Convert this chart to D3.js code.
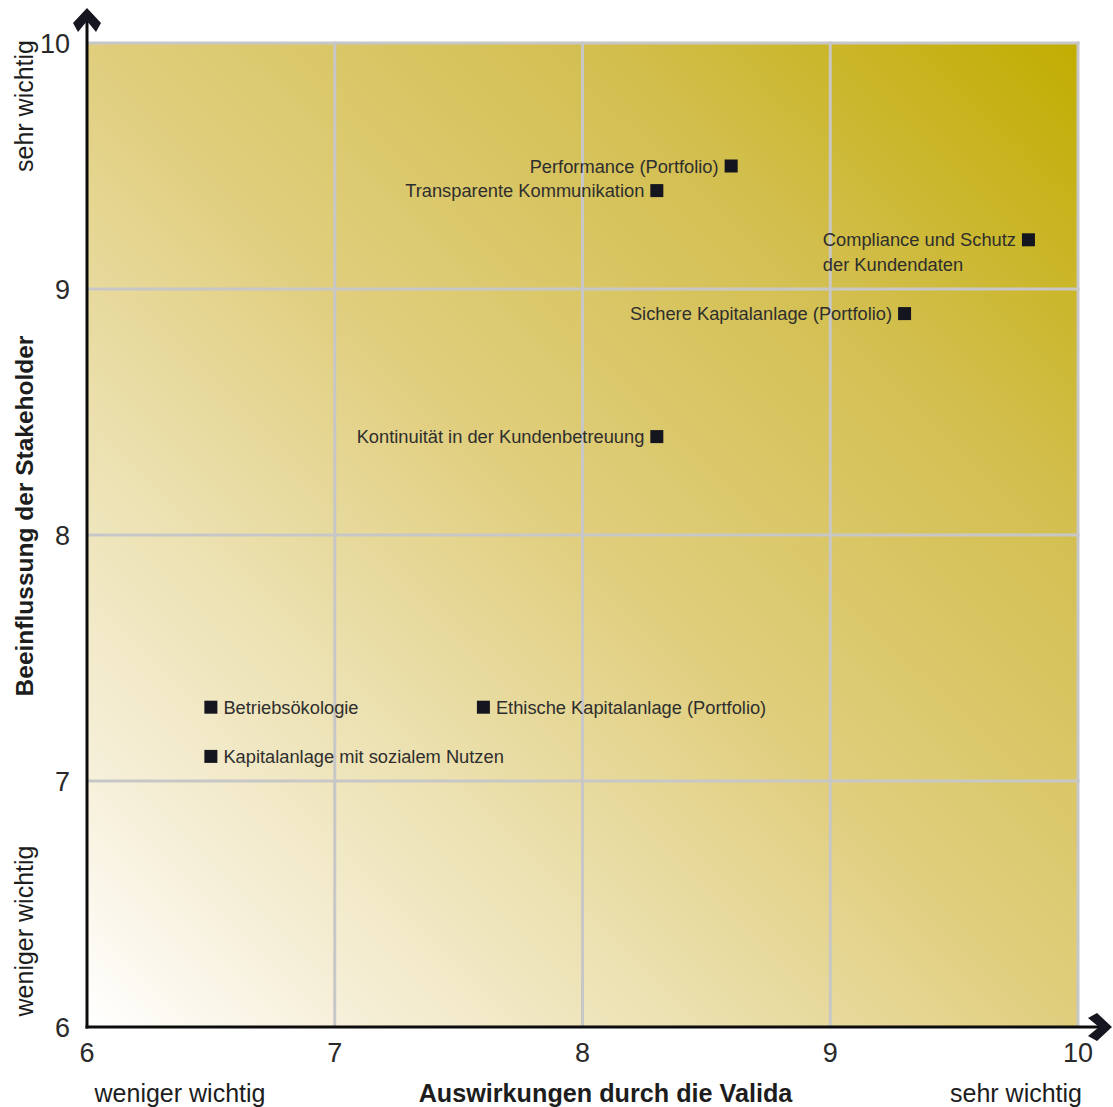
<!DOCTYPE html>
<html lang="de">
<head>
<meta charset="utf-8">
<script src="https://cdn.jsdelivr.net/npm/d3@7"></script>
<style>
  html, body { margin: 0; padding: 0; background: #ffffff; }
  svg { display: block; }
</style>
</head>
<body>
<svg id="chart" width="1113" height="1107"></svg>
<script>
// Wesentlichkeitsmatrix: Themen nach Auswirkung und Stakeholder-Einfluss
const topics = [
  "Performance (Portfolio)",
  "Transparente Kommunikation",
  "Compliance und Schutz|der Kundendaten",
  "Sichere Kapitalanlage (Portfolio)",
  "Kontinuität in der Kundenbetreuung",
  "Betriebsökologie",
  "Ethische Kapitalanlage (Portfolio)",
  "Kapitalanlage mit sozialem Nutzen"
];
const impact    = [8.6, 8.3, 9.8, 9.3, 8.3, 6.5, 7.6, 6.5];   // Auswirkungen durch die Valida
const influence = [9.5, 9.4, 9.2, 8.9, 8.4, 7.3, 7.3, 7.1];   // Beeinflussung der Stakeholder
const labelSide = ["left", "left", "left", "left", "left", "right", "right", "right"];

const xTicks = [6, 7, 8, 9, 10];
const yTicks = [6, 7, 8, 9, 10];

const svg = d3.select("#chart");
const margin = { left: 87, right: 35, top: 43, bottom: 80 };
const W = 1113, H = 1107;

const x = d3.scaleLinear().domain([6, 10]).range([margin.left, W - margin.right]);
const y = d3.scaleLinear().domain([6, 10]).range([H - margin.bottom, margin.top]);

const labelFont = "'Liberation Sans', Arial, sans-serif";
const tickFont = "'Liberation Sans Narrow', 'Liberation Sans', Arial, sans-serif";

// Hintergrundverlauf: weiß unten links bis oliv oben rechts
const defs = svg.append("defs");
const grad = defs.append("linearGradient")
  .attr("id", "bg")
  .attr("x1", 0).attr("y1", 1).attr("x2", 1).attr("y2", 0);
[
  [0, "#ffffff"], [0.12, "#f7f1dd"], [0.3, "#ece1b1"],
  [0.5, "#e0ce7d"], [0.75, "#d3bf50"], [1, "#c1ad00"]
].forEach(([o, c]) => grad.append("stop").attr("offset", o).attr("stop-color", c));

svg.append("rect")
  .attr("x", x(6)).attr("y", y(10))
  .attr("width", x(10) - x(6)).attr("height", y(6) - y(10))
  .attr("fill", "url(#bg)");

// Gitternetz
const grid = svg.append("g").attr("stroke", "#c7c7c7").attr("stroke-width", 3);
xTicks.filter(d => d > 6).forEach(d => {
  grid.append("line").attr("x1", x(d)).attr("x2", x(d)).attr("y1", y(10) - 1.5).attr("y2", y(6));
});
yTicks.filter(d => d > 6).forEach(d => {
  grid.append("line").attr("x1", x(6)).attr("x2", x(10) + 1.5).attr("y1", y(d)).attr("y2", y(d));
});

// Achsen mit Pfeilspitzen
const axisColor = "#0c0c0c";
svg.append("line")
  .attr("x1", x(6)).attr("x2", x(6)).attr("y1", y(6) + 1.5).attr("y2", 16)
  .attr("stroke", axisColor).attr("stroke-width", 3);
svg.append("line")
  .attr("x1", x(6) - 1.5).attr("x2", W - 10).attr("y1", y(6)).attr("y2", y(6))
  .attr("stroke", axisColor).attr("stroke-width", 3);

const chevron = "M0,0 L14,15 L9,24 L0,13 L-9,24 L-14,15 Z";
svg.append("path").attr("d", chevron)
  .attr("transform", `translate(${x(6)},8)`)
  .attr("fill", "#161620");
svg.append("path").attr("d", chevron)
  .attr("transform", `translate(${W - 1},${y(6)}) rotate(90)`)
  .attr("fill", "#161620");

// Achsenbeschriftungen (Zahlen)
svg.append("g").selectAll("text").data(xTicks).join("text")
  .attr("x", d => x(d)).attr("y", y(6) + 35)
  .attr("text-anchor", "middle")
  .attr("font-family", tickFont).attr("font-size", 27)
  .attr("fill", "#2a2a2a")
  .text(d => d);

svg.append("g").selectAll("text").data(yTicks).join("text")
  .attr("x", x(6) - 17).attr("y", d => y(d) + 10)
  .attr("text-anchor", "end")
  .attr("font-family", tickFont).attr("font-size", 27)
  .attr("fill", "#2a2a2a")
  .text(d => d);

// Achsentitel
svg.append("text")
  .attr("x", (x(6) + x(10)) / 2 + 23).attr("y", 1102)
  .attr("text-anchor", "middle")
  .attr("font-family", labelFont).attr("font-size", 25.2).attr("font-weight", "bold")
  .attr("fill", "#1d1d1d")
  .text("Auswirkungen durch die Valida");
svg.append("text")
  .attr("x", 180).attr("y", 1102)
  .attr("text-anchor", "middle")
  .attr("font-family", labelFont).attr("font-size", 25)
  .attr("fill", "#1d1d1d")
  .text("weniger wichtig");
svg.append("text")
  .attr("x", 1082).attr("y", 1102)
  .attr("text-anchor", "end")
  .attr("font-family", labelFont).attr("font-size", 25)
  .attr("fill", "#1d1d1d")
  .text("sehr wichtig");

svg.append("text")
  .attr("transform", "translate(33,516) rotate(-90)")
  .attr("text-anchor", "middle")
  .attr("font-family", labelFont).attr("font-size", 24.5).attr("font-weight", "bold")
  .attr("fill", "#1d1d1d")
  .text("Beeinflussung der Stakeholder");
svg.append("text")
  .attr("transform", "translate(33,106) rotate(-90)")
  .attr("text-anchor", "middle")
  .attr("font-family", labelFont).attr("font-size", 25)
  .attr("fill", "#1d1d1d")
  .text("sehr wichtig");
svg.append("text")
  .attr("transform", "translate(33,931) rotate(-90)")
  .attr("text-anchor", "middle")
  .attr("font-family", labelFont).attr("font-size", 25)
  .attr("fill", "#1d1d1d")
  .text("weniger wichtig");

// Themenpunkte mit Beschriftung
const sq = 13, gap = 6;
const points = svg.append("g");
topics.forEach((t, i) => {
  const cx = x(impact[i]), cy = y(influence[i]);
  points.append("rect")
    .attr("x", cx - sq / 2).attr("y", cy - sq / 2)
    .attr("width", sq).attr("height", sq)
    .attr("fill", "#15151f");
  const lines = t.split("|");
  const left = labelSide[i] === "left";
  const first = points.append("text")
    .attr("x", left ? cx - sq / 2 - gap : cx + sq / 2 + gap)
    .attr("y", cy + 6.5)
    .attr("text-anchor", left ? "end" : "start")
    .attr("font-family", labelFont).attr("font-size", 18.3)
    .attr("fill", "#2e2e2e")
    .text(lines[0]);
  if (lines.length > 1) {
    const bx = first.node().getBBox().x;
    points.append("text")
      .attr("x", bx).attr("y", cy + 6.5 + 25)
      .attr("text-anchor", "start")
      .attr("font-family", labelFont).attr("font-size", 18.3)
      .attr("fill", "#2e2e2e")
      .text(lines[1]);
  }
});
</script>
</body>
</html>
